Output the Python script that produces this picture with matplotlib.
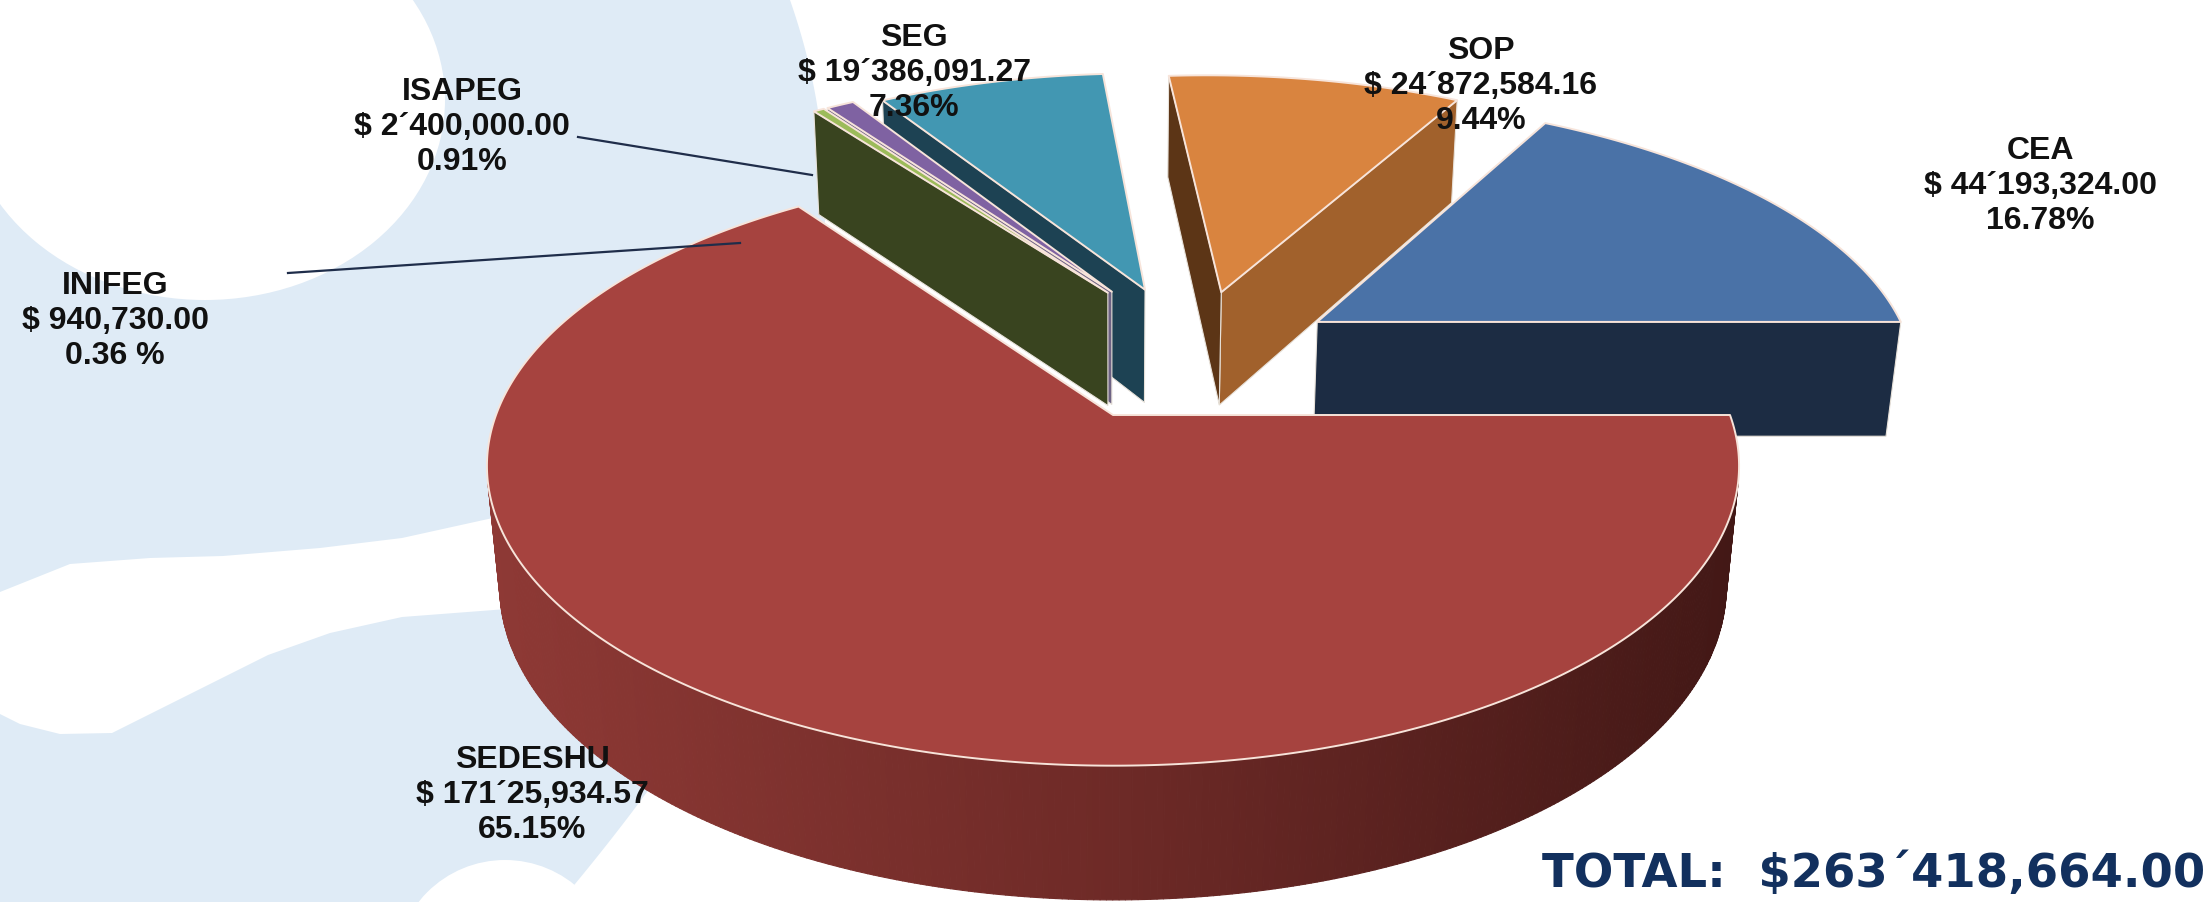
import numpy as np
import matplotlib.pyplot as plt
from matplotlib.patches import Polygon, Ellipse, Circle
from matplotlib.collections import PolyCollection
from matplotlib.colors import LinearSegmentedColormap

# Slices, counter-clockwise starting at 3 o'clock
names = ['CEA', 'SOP', 'SEG', 'ISAPEG', 'INIFEG', 'SEDESHU']
amounts = [44193324.00, 24872584.16, 19386091.27, 2400000.00, 940730.00, 171625934.57]
amount_text = ['$ 44´193,324.00', '$ 24´872,584.16', '$ 19´386,091.27',
               '$ 2´400,000.00', '$ 940,730.00', '$ 171´25,934.57']
pct_text = ['16.78%', '9.44%', '7.36%', '0.91%', '0.36 %', '65.15%']
total_text = 'TOTAL:  $263´418,664.00'

# Colours: top, start face, end face
top_colors = ['#4A72A7', '#D9843F', '#4297B2', '#7F62A2', '#9CBB5A', '#A6433F']
start_colors = ['#1C2C43', '#A1612C', '#1D4152', '#43355C', '#3A4520', '#5A201E']
end_colors = ['#1C2C43', '#5C3516', '#1D4253', '#6E6384', '#39441F', '#5A201E']
wall_cmap = LinearSegmentedColormap.from_list('wall', ['#8E3935', '#6E2A27', '#431816'])

# explode offsets (pie radius units, in the pie plane)
offsets = [(0.35, 0.338), (0.189, 0.454), (0.056, 0.464), (-0.002, 0.456), (-0.009, 0.452), (0.0, 0.0)]
label_xy = [(2040, 186), (1481, 86), (914, 73), (462, 127), (115, 321), (532, 795)]

# 3D view (pixels)
CX, CY, R = 1113, 415, 617
SE = 0.472
CE = np.sqrt(1 - SE ** 2)
DIST = 5.2
H = 0.223
cam = np.array([0.0, -DIST * CE, DIST * SE])


def proj(x, y, z):
    k = DIST / (DIST + np.asarray(y) * CE - z * SE)
    return CX + R * np.asarray(x) * k, CY - R * (np.asarray(y) * SE + z * CE) * k


def facing(normal, point):
    return np.dot(normal, cam - np.asarray(point)) > 0


fig = plt.figure(figsize=(22.11, 9.02), dpi=100)
ax = fig.add_axes([0, 0, 1, 1])
ax.set_xlim(0, 2211)
ax.set_ylim(902, 0)
ax.axis('off')
fig.patch.set_facecolor('white')

# background decoration
yy = np.linspace(0, 902, 160)
xb = np.where(yy < 200, 825 - 35 * ((200 - yy) / 200) ** 2, 825.0)
xb = np.where(yy > 430, 825 - 265 * (np.clip(yy - 430, 0, None) / 472) ** 1.5, xb)
ax.add_patch(Polygon([(0, 0)] + list(zip(xb, yy)) + [(0, 902)], closed=True,
                     facecolor='#DFEBF6', edgecolor='none', zorder=0))
ax.add_patch(Ellipse((205, 100), 480, 400, facecolor='white', edgecolor='none', zorder=1))
swoosh = [(0, 592), (70, 564), (150, 558), (223, 556), (320, 548), (402, 538), (520, 512),
          (520, 608), (402, 617), (330, 633), (268, 655), (178, 700), (112, 733),
          (60, 734), (20, 724), (0, 714)]
ax.add_patch(Polygon(swoosh, closed=True, facecolor='white', edgecolor='none', zorder=1))
ax.add_patch(Circle((505, 970), 110, facecolor='white', edgecolor='none', zorder=1))

frac = np.array(amounts) / sum(amounts)
edges = np.concatenate([[0], np.cumsum(frac)]) * 2 * np.pi


def draw_slice(i, z):
    a, b = edges[i], edges[i + 1]
    ox, oy = offsets[i]
    n = max(int(np.degrees(b - a) * 2), 2)
    t = np.linspace(a, b, n + 1)
    rx, ry = ox + np.cos(t), oy + np.sin(t)
    tx, ty = proj(rx, ry, 0.0)
    bx, by = proj(rx, ry, -H)
    px0, py0 = proj(ox, oy, 0.0)
    px1, py1 = proj(ox, oy, -H)

    # outer curved wall
    quads = []
    for j in range(n):
        tm = 0.5 * (t[j] + t[j + 1])
        nrm = np.array([np.cos(tm), np.sin(tm), 0.0])
        if facing(nrm, [ox + np.cos(tm), oy + np.sin(tm), -H / 2]):
            quads.append([(tx[j], ty[j]), (tx[j + 1], ty[j + 1]),
                          (bx[j + 1], by[j + 1]), (bx[j], by[j])])
    if quads:
        xm = np.array([np.mean([p[0] for p in q]) for q in quads])
        cols = wall_cmap((xm - xm.min()) / max(xm.max() - xm.min(), 1))
        ax.add_collection(PolyCollection(quads, facecolors=cols, edgecolors=cols,
                                         linewidths=0.8, zorder=z))

    # radial faces
    for ang, sign, col, k in [(a, -1, start_colors[i], 0), (b, 1, end_colors[i], -1)]:
        nrm = sign * np.array([-np.sin(ang), np.cos(ang), 0.0])
        if facing(nrm, [ox + 0.5 * np.cos(ang), oy + 0.5 * np.sin(ang), -H / 2]):
            face = [(px0, py0), (tx[k], ty[k]), (bx[k], by[k]), (px1, py1)]
            ax.add_patch(Polygon(face, closed=True, facecolor=col,
                                 edgecolor='#E8E2DA', linewidth=0.8, zorder=z + 0.1))

    # top
    top = [(px0, py0)] + list(zip(tx, ty))
    ax.add_patch(Polygon(top, closed=True, facecolor=top_colors[i],
                         edgecolor='#F7E4DA', linewidth=1.4, joinstyle='round', zorder=z + 0.2))


# paint far slices first
mid = 0.5 * (edges[:-1] + edges[1:])
depth = [offsets[i][1] + 0.6 * np.sin(mid[i]) for i in range(len(names))]
order = np.argsort(depth)[::-1]
for rank, i in enumerate(order):
    draw_slice(i, 5 + rank)

# leader lines
ax.plot([578, 812], [137, 175], color='#1F2D4A', lw=1.6, zorder=30)
ax.plot([288, 740], [273, 243], color='#1F2D4A', lw=1.6, zorder=30)

for i, name in enumerate(names):
    x, y = label_xy[i]
    ax.text(x, y, f'{name}\n{amount_text[i]}\n{pct_text[i]}', ha='center', va='center',
            fontsize=23, fontweight='bold', family=['Liberation Sans', 'DejaVu Sans'],
            color='#111111', linespacing=1.2, zorder=50)

ax.text(2205, 875, total_text, ha='right', va='center', fontsize=33.5, fontweight='bold',
        family=['DejaVu Sans'], color='#12305E', zorder=50)

fig.savefig('out.png', dpi=100, facecolor=fig.get_facecolor())
